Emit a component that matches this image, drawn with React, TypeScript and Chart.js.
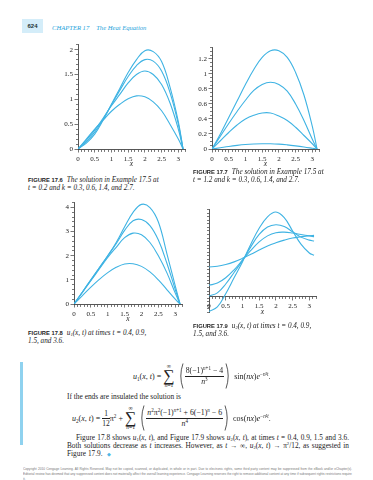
import React, { useEffect, useRef } from "react";
import { Chart, registerables } from "chart.js";
Chart.register(...registerables);

// x sample positions (radians)
const X = [0, 0.25, 0.5, 0.75, 1, 1.25, 1.5, 1.75, 2, 2.25, 2.5, 2.75, 3, 3.1416];

// Figure 17.6: t = 0.2, k = 0.3, 0.6, 1.4, 2.7
const f6k03 = [0, 0.12, 0.3, 0.58, 0.9, 1.22, 1.54, 1.8, 1.98, 1.96, 1.76, 1.25, 0.55, 0];
const f6k06 = [0, 0.15, 0.34, 0.6, 0.89, 1.18, 1.46, 1.68, 1.8, 1.77, 1.57, 1.14, 0.5, 0];
const f6k14 = [0, 0.18, 0.38, 0.62, 0.87, 1.1, 1.33, 1.5, 1.57, 1.5, 1.3, 0.93, 0.4, 0];
const f6k27 = [0, 0.2, 0.4, 0.58, 0.76, 0.9, 1.01, 1.07, 1.05, 0.95, 0.77, 0.5, 0.2, 0];

// Figure 17.7: t = 1.2, k = 0.3, 0.6, 1.4, 2.7
const f7k03 = [0, 0.2, 0.42, 0.64, 0.86, 1.06, 1.22, 1.31, 1.31, 1.22, 1.02, 0.72, 0.3, 0];
const f7k06 = [0, 0.17, 0.34, 0.5, 0.65, 0.78, 0.86, 0.89, 0.86, 0.77, 0.6, 0.38, 0.13, 0];
const f7k14 = [0, 0.11, 0.22, 0.32, 0.4, 0.45, 0.48, 0.48, 0.44, 0.38, 0.29, 0.18, 0.07, 0];
const f7k27 = [0, 0.017, 0.034, 0.048, 0.059, 0.066, 0.07, 0.07, 0.065, 0.055, 0.042, 0.027, 0.01, 0];

// Figure 17.8: u1(x,t), t = 0.4, 0.9, 1.5, 3.6
const f8t04 = [0, 0.5, 1.0, 1.5, 2.0, 2.55, 3.2, 3.8, 4.13, 4.0, 3.4, 2.1, 0.75, 0];
const f8t09 = [0, 0.5, 1.0, 1.5, 2.0, 2.5, 3.05, 3.45, 3.5, 3.25, 2.65, 1.7, 0.6, 0];
const f8t15 = [0, 0.48, 0.97, 1.45, 1.93, 2.35, 2.75, 2.94, 2.87, 2.55, 2.0, 1.3, 0.45, 0];
const f8t36 = [0, 0.35, 0.7, 1.02, 1.3, 1.52, 1.66, 1.67, 1.56, 1.33, 1.0, 0.6, 0.2, 0];

// Figure 17.9: u2(x,t), t = 0.4, 0.9, 1.5, 3.6
const f9t04 = [-0.85, -0.6, 0.15, 1.05, 1.95, 2.95, 3.85, 4.5, 4.77, 4.45, 3.7, 2.95, 2.45, 2.32];
const f9t09 = [0.02, 0.2, 0.7, 1.35, 2.02, 2.8, 3.5, 3.92, 4.05, 3.95, 3.65, 3.35, 3.18, 3.13];
const f9t15 = [0.63, 0.75, 1.05, 1.5, 2.05, 2.6, 3.08, 3.42, 3.6, 3.63, 3.58, 3.5, 3.42, 3.38];
const f9t36 = [1.66, 1.7, 1.8, 1.95, 2.15, 2.38, 2.62, 2.85, 3.03, 3.18, 3.3, 3.37, 3.43, 3.45];

// tick labels
const xTickLabels = [0, 0.5, 1, 1.5, 2, 2.5, 3];
const y6TickLabels = [0, 0.5, 1, 1.5, 2];
const y7TickLabels = [0, 0.2, 0.4, 0.6, 0.8, 1, 1.2];
const y8TickLabels = [0, 1, 2, 3, 4];
const y9TickLabels = [0, 1, 2, 3, 4];

const LINE = "#3fb3e3";
const SERIF = "'Liberation Serif', 'Times New Roman', serif";
const SANS = "'Liberation Sans', Arial, sans-serif";

const isIn = (v: number, arr: number[]) => arr.some((a) => Math.abs(a - v) < 1e-6);
const fmt = (v: number) => String(Math.round(v * 100) / 100);

function Plot({ series, yMin, yMax, yStep, yLabels, rect, xAtZero }: any) {
  const ref = useRef<HTMLCanvasElement | null>(null);
  useEffect(() => {
    const TL = 3.5;
    const chart = new Chart(ref.current as HTMLCanvasElement, {
      type: "line",
      data: {
        datasets: series.map((s: number[]) => ({
          data: X.map((x, i) => ({ x, y: s[i] })),
          borderColor: LINE,
          borderWidth: 1.1,
          pointRadius: 0,
          tension: 0.4,
          fill: false,
        })),
      },
      options: {
        animation: false,
        responsive: false,
        devicePixelRatio: 1,
        layout: { padding: { top: 4, right: 4, left: 0, bottom: xAtZero ? 2 : 0 } },
        plugins: { legend: { display: false }, tooltip: { enabled: false } },
        scales: {
          x: {
            type: "linear",
            min: 0,
            max: 3.2,
            position: xAtZero ? { y: 0 } : "bottom",
            ticks: {
              stepSize: 0.1,
              autoSkip: false,
              maxRotation: 0,
              includeBounds: false,
              padding: 2,
              color: "#222",
              font: { family: SERIF, size: 7 },
              callback: (v: any) => (isIn(Number(v), xTickLabels) ? fmt(Number(v)) : ""),
            },
            grid: {
              display: true,
              drawOnChartArea: false,
              drawTicks: true,
              tickLength: TL,
              tickColor: "#555",
              tickWidth: 0.8,
              tickBorderDash: (ctx: any) =>
                ctx.tick && isIn(ctx.tick.value, xTickLabels) ? [] : [2, 40],
            },
            border: { display: true, color: "#444", width: 0.9 },
            title: {
              display: true,
              text: "x",
              color: "#222",
              padding: 0,
              font: { family: SERIF, size: 7.5, style: "italic" },
            },
            afterFit: (s: any) => {
              s.height = 20;
            },
          } as any,
          y: {
            type: "linear",
            min: yMin,
            max: yMax,
            position: "left",
            ticks: {
              stepSize: yStep,
              autoSkip: false,
              includeBounds: false,
              padding: 1.5,
              color: "#222",
              font: { family: SERIF, size: 7 },
              callback: (v: any) => (isIn(Number(v), yLabels) ? fmt(Number(v)) : ""),
            },
            grid: {
              display: true,
              drawOnChartArea: false,
              drawTicks: true,
              tickLength: TL,
              tickColor: "#555",
              tickWidth: 0.8,
              tickBorderDash: (ctx: any) =>
                ctx.tick && isIn(ctx.tick.value, yLabels) ? [] : [0, TL - 2, 2, 40],
            },
            border: { display: true, color: "#444", width: 0.9 },
            afterFit: (s: any) => {
              s.width = 26;
            },
          } as any,
        },
      },
    } as any);
    return () => chart.destroy();
  }, []);
  return (
    <canvas
      ref={ref}
      width={rect.w}
      height={rect.h}
      style={{ position: "absolute", left: rect.l, top: rect.t, width: rect.w, height: rect.h }}
    />
  );
}

const abs = (l: number, t: number, extra: any = {}) => ({
  position: "absolute" as const,
  left: l,
  top: t,
  whiteSpace: "nowrap" as const,
  ...extra,
});

function Caption({ l, t, num, line1, line2 }: any) {
  return (
    <div style={abs(l, t, { fontSize: 7.2, lineHeight: "7.6px", fontFamily: SERIF, color: "#222" })}>
      <div>
        <span style={{ fontFamily: SANS, fontWeight: 700, fontSize: 5.8, marginRight: 4 }}>{num}</span>
        <i>{line1}</i>
      </div>
      <div>
        <i>{line2}</i>
      </div>
    </div>
  );
}

const sup = { fontSize: "65%", verticalAlign: "0.55em", lineHeight: 0 };
const sub = { fontSize: "65%", verticalAlign: "-0.3em", lineHeight: 0 };

function Sigma({ size }: any) {
  return (
    <span style={{ display: "inline-flex", flexDirection: "column", alignItems: "center", margin: "0 2px", lineHeight: 1 }}>
      <span style={{ fontSize: 6 }}>∞</span>
      <span style={{ fontSize: size, lineHeight: 0.9 }}>∑</span>
      <span style={{ fontSize: 5.5 }}>
        <i>n</i>=1
      </span>
    </span>
  );
}

function Frac({ num, den, fs }: any) {
  return (
    <span style={{ display: "inline-flex", flexDirection: "column", alignItems: "center", lineHeight: 1.2, fontSize: fs }}>
      <span style={{ padding: "0 1px" }}>{num}</span>
      <span style={{ borderTop: "0.6px solid #222", width: "100%", textAlign: "center" }}>{den}</span>
    </span>
  );
}

const Paren = ({ left }: any) => (
  <svg width={6} height={26} viewBox="0 0 6 26" style={{ display: "block", margin: "0 1px" }}>
    <path
      d={left ? "M5 0.5 Q0.6 13 5 25.5" : "M1 0.5 Q5.4 13 1 25.5"}
      stroke="#222"
      strokeWidth={0.75}
      fill="none"
    />
  </svg>
);

export default function App() {
  return (
    <div
      style={{
        position: "absolute",
        left: 0,
        top: 0,
        width: 373,
        height: 480,
        background: "#fff",
        fontFamily: SERIF,
        color: "#222",
        overflow: "hidden",
      }}
    >
      {/* header */}
      <div
        style={abs(22, 19, {
          width: 21,
          height: 14,
          background: "#d4edf9",
          fontFamily: SANS,
          fontWeight: 700,
          fontSize: 6,
          lineHeight: "14px",
          textAlign: "center",
          color: "#233",
        })}
      >
        624
      </div>
      <div style={abs(52, 23.5, { fontSize: 6.6, fontStyle: "italic", color: "#26a3db", lineHeight: "8px" })}>
        CHAPTER 17<span style={{ marginLeft: 7 }}>The Heat Equation</span>
      </div>

      {/* charts */}
      <Plot
        series={[f6k03, f6k06, f6k14, f6k27]}
        yMin={0}
        yMax={2.1}
        yStep={0.1}
        yLabels={y6TickLabels}
        rect={{ l: 52, t: 39, w: 137, h: 130 }}
      />
      <Plot
        series={[f7k03, f7k06, f7k14, f7k27]}
        yMin={0}
        yMax={1.35}
        yStep={0.05}
        yLabels={y7TickLabels}
        rect={{ l: 186, t: 42, w: 137, h: 127 }}
      />
      <Plot
        series={[f8t04, f8t09, f8t15, f8t36]}
        yMin={0}
        yMax={4.2}
        yStep={0.2}
        yLabels={y8TickLabels}
        rect={{ l: 48, t: 197, w: 138, h: 127 }}
      />
      <Plot
        series={[f9t04, f9t09, f9t15, f9t36]}
        yMin={-0.9}
        yMax={4.9}
        yStep={0.2}
        yLabels={y9TickLabels}
        rect={{ l: 183, t: 204, w: 137, h: 114 }}
        xAtZero
      />

      {/* captions */}
      <Caption
        l={28}
        t={177}
        num="FIGURE 17.6"
        line1="The solution in Example 17.5 at"
        line2="t = 0.2 and k = 0.3, 0.6, 1.4, and 2.7."
      />
      <Caption
        l={193}
        t={169}
        num="FIGURE 17.7"
        line1="The solution in Example 17.5 at"
        line2="t = 1.2 and k = 0.3, 0.6, 1.4, and 2.7."
      />
      <Caption
        l={28}
        t={330}
        num="FIGURE 17.8"
        line1={
          <>
            u<span style={sub}>1</span>(x, t) at times t = 0.4, 0.9,
          </>
        }
        line2="1.5, and 3.6."
      />
      <Caption
        l={193}
        t={323}
        num="FIGURE 17.9"
        line1={
          <>
            u<span style={sub}>2</span>(x, t) at times t = 0.4, 0.9,
          </>
        }
        line2="1.5, and 3.6."
      />

      {/* blue side bar */}
      <div style={abs(20, 362, { width: 3, height: 83, background: "#8fd2ef" })} />

      {/* formula 1 */}
      <div style={abs(133, 359, { display: "flex", alignItems: "center", fontSize: 8, height: 34 })}>
        <span>
          <i>u</i>
          <span style={sub}>1</span>(<i>x</i>, <i>t</i>) =
        </span>
        <Sigma size={16} />
        <Paren left />
        <Frac
          fs={7.8}
          num={
            <>
              8(−1)<span style={sup}><i>n</i>+1</span> − 4
            </>
          }
          den={
            <>
              <i>n</i>
              <span style={sup}>3</span>
            </>
          }
        />
        <Paren />
        <span>
          &nbsp;sin(<i>nx</i>)<i>e</i>
          <span style={sup}>
            −<i>n</i>²<i>t</i>
          </span>
          .
        </span>
      </div>

      <div style={abs(67, 393, { fontSize: 7.4, lineHeight: "8px" })}>If the ends are insulated the solution is</div>

      {/* formula 2 */}
      <div style={abs(72, 401, { display: "flex", alignItems: "center", fontSize: 8, height: 34 })}>
        <span>
          <i>u</i>
          <span style={sub}>2</span>(<i>x</i>, <i>t</i>) =&nbsp;
        </span>
        <Frac fs={7.5} num="1" den="12" />
        <span>
          π<span style={sup}>2</span> +
        </span>
        <Sigma size={16} />
        <Paren left />
        <Frac
          fs={7.8}
          num={
            <>
              <i>n</i>
              <span style={sup}>2</span>π<span style={sup}>2</span>(−1)
              <span style={sup}>
                <i>n</i>+1
              </span>{" "}
              + 6(−1)<span style={sup}><i>n</i></span> − 6
            </>
          }
          den={
            <>
              <i>n</i>
              <span style={sup}>4</span>
            </>
          }
        />
        <Paren />
        <span>
          &nbsp;cos(<i>nx</i>)<i>e</i>
          <span style={sup}>
            −<i>n</i>²<i>t</i>
          </span>
          .
        </span>
      </div>

      {/* paragraph */}
      <div style={abs(76, 434, { width: 273, fontSize: 7.3, lineHeight: "8px", textAlignLast: "justify" })}>
        Figure 17.8 shows <i>u</i>
        <span style={sub}>1</span>(<i>x</i>, <i>t</i>), and Figure 17.9 shows <i>u</i>
        <span style={sub}>2</span>(<i>x</i>, <i>t</i>), at times <i>t</i> = 0.4, 0.9, 1.5 and 3.6.
      </div>
      <div style={abs(67, 442, { width: 282, fontSize: 7.3, lineHeight: "8px", textAlignLast: "justify" })}>
        Both solutions decrease as <i>t</i> increases. However, as <i>t</i> → ∞, <i>u</i>
        <span style={sub}>2</span>(<i>x</i>, <i>t</i>) → π<span style={sup}>2</span>/12, as suggested in
      </div>
      <div style={abs(67, 450, { fontSize: 7.3, lineHeight: "8px" })}>
        Figure 17.9.<span style={{ color: "#4fb7e5", fontSize: 5, marginLeft: 5 }}>◆</span>
      </div>

      {/* footer */}
      <div
        style={abs(23, 466, {
          width: 658,
          fontSize: 6.4,
          lineHeight: "10px",
          color: "#777",
          fontFamily: SANS,
          transform: "scale(0.5)",
          transformOrigin: "0 0",
          whiteSpace: "normal",
          textAlignLast: "justify",
        })}
      >
        <div>
          Copyright 2010 Cengage Learning. All Rights Reserved. May not be copied, scanned, or duplicated, in whole or in part. Due to electronic rights, some third party content may be suppressed from the eBook and/or eChapter(s).
        </div>
        <div>
          Editorial review has deemed that any suppressed content does not materially affect the overall learning experience. Cengage Learning reserves the right to remove additional content at any time if subsequent rights restrictions require it.
        </div>
      </div>
    </div>
  );
}
